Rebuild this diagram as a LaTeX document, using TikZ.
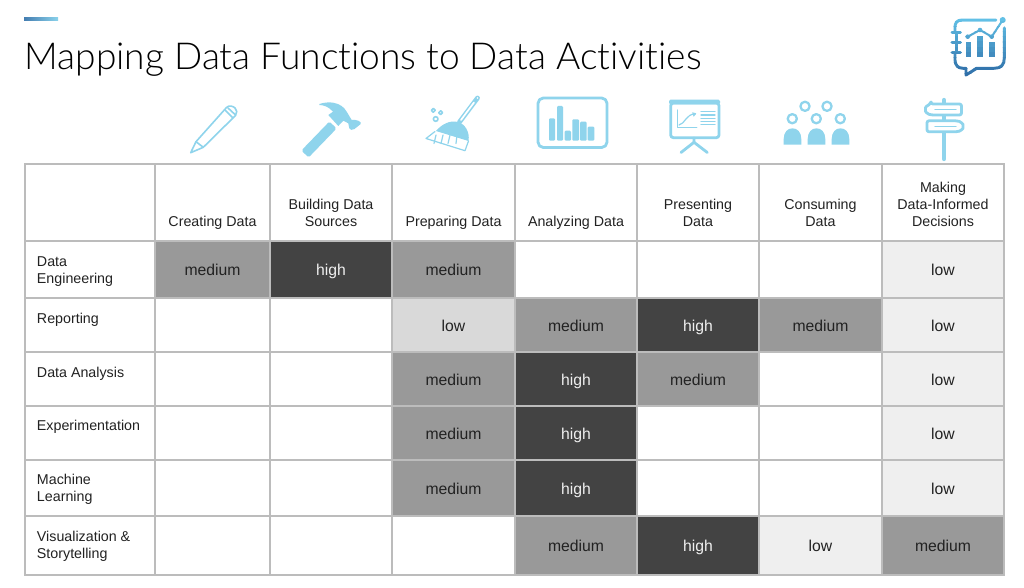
\documentclass[tikz,border=0pt]{standalone}
\usepackage{fontspec}
\setmainfont{Liberation Sans}
\newfontfamily\titlefont[Ligatures={NoCommon}]{Lato Light}
\usetikzlibrary{calc,shapes.geometric}
\definecolor{icon}{HTML}{8FD4EC}
\definecolor{gridc}{HTML}{BCBCBC}
\definecolor{medc}{HTML}{999999}
\definecolor{highc}{HTML}{434343}
\definecolor{lowc}{HTML}{D9D9D9}
\definecolor{palec}{HTML}{EFEFEF}
\definecolor{inkc}{HTML}{222222}
\definecolor{logotop}{HTML}{62C0E6}
\definecolor{logobot}{HTML}{2F6FA8}
\tikzset{
  gridline/.style={draw=gridc,line width=0.85pt},
  valtext/.style={font=\fontsize{11.8}{14}\selectfont,inner sep=0pt,text height=9.6pt,text depth=0pt,anchor=center},
  headtext/.style={font=\fontsize{10.7}{12.75}\selectfont,text=inkc,inner sep=0pt,align=center,anchor=base},
  rowtext/.style={font=\fontsize{10.7}{12.75}\selectfont,text=inkc,inner sep=0pt,align=left,anchor=base west},
  iconline/.style={draw=icon,line width=1.2pt,line join=round,line cap=round,fill=none},
  iconthick/.style={draw=icon,line width=2.1pt,line join=round,line cap=round,fill=none},
  iconfill/.style={fill=icon,draw=none},
}
\newcommand\vcell[5]{%
  \pgfmathtruncatemacro\nc{#1+1}\pgfmathtruncatemacro\nr{#2+1}%
  \draw[gridline,fill=#3] (g#1-#2) rectangle (g\nc-\nr);
  \node[valtext,text=#4] (v#1-#2) at ($(g#1-#2)!.5!(g\nc-\nr)$) {#5};
}
\newcommand\logopaths{%
  \draw[line width=2.2pt,line cap=round,line join=round]
    (996,20) -- (962,20) .. controls (957,20) and (955,23) .. (955,27) -- (955,31);
  \draw[line width=2.2pt] (956.7,33) -- (956.7,52);
  \draw[line width=2.2pt,line cap=round,line join=round]
    (955,54) -- (955,60) .. controls (955,65) and (958,68.3) .. (963,68.3)
    -- (966,68.3) -- (966,75) -- (976.7,68.3) -- (994,68.3)
    .. controls (1001,68.3) and (1004.3,65) .. (1004.3,58) -- (1004.3,28);
  \draw[line width=2pt,line cap=round] (952,32.3) -- (960.5,32.3);
  \draw[line width=2pt,line cap=round] (952,42.3) -- (960.5,42.3);
  \draw[line width=2pt,line cap=round] (952,52.3) -- (960.5,52.3);
  \draw[line width=1.5pt] (967.7,36.7) -- (980,30) -- (991.7,36.7) -- (1002.7,20);
  \fill (967.7,36.7) circle (2.3);
  \fill (980,30) circle (2.3);
  \fill (991.7,36.7) circle (2.3);
  \fill (1002.7,20) circle (3);
  \fill (965.7,41.7) rectangle (970.7,57.3);
  \fill (976.7,36) rectangle (982.7,57.3);
  \fill (989.3,41.7) rectangle (995,57.3);
}
\begin{document}
\begin{tikzpicture}[x=0.75pt,y=-0.75pt]
\useasboundingbox (0,0) rectangle (1024,588);
\fill[white] (0,0) rectangle (1024,588);
% accent bar and title
\shade[left color=logobot!90!white,right color=icon!90!logotop] (24,17.3) rectangle (58,20.7);
\node[inner sep=0pt,anchor=base west,text=black,font=\titlefont\fontsize{27.85}{30}\selectfont] (title) at (24.3,70) {Mapping Data Functions to Data Activities};
% grid
\foreach \i/\x in {0/25,1/155,2/270,3/392,4/515,5/637,6/759,7/882,8/1004}
  \foreach \j/\y in {0/164,1/241,2/298,3/352,4/406,5/460,6/516,7/575}
    \coordinate (g\i-\j) at (\x,\y);
\foreach \i in {0,...,7}
  \foreach \j in {0,...,6} {
    \pgfmathtruncatemacro\nc{\i+1}\pgfmathtruncatemacro\nr{\j+1}
    \draw[gridline,fill=white] (g\i-\j) rectangle (g\nc-\nr);
  }
% values
\vcell{1}{1}{medc}{inkc}{medium}
\vcell{2}{1}{highc}{palec}{high}
\vcell{3}{1}{medc}{inkc}{medium}
\vcell{7}{1}{palec}{inkc}{low}
\vcell{3}{2}{lowc}{inkc}{low}
\vcell{4}{2}{medc}{inkc}{medium}
\vcell{5}{2}{highc}{palec}{high}
\vcell{6}{2}{medc}{inkc}{medium}
\vcell{7}{2}{palec}{inkc}{low}
\vcell{3}{3}{medc}{inkc}{medium}
\vcell{4}{3}{highc}{palec}{high}
\vcell{5}{3}{medc}{inkc}{medium}
\vcell{7}{3}{palec}{inkc}{low}
\vcell{3}{4}{medc}{inkc}{medium}
\vcell{4}{4}{highc}{palec}{high}
\vcell{7}{4}{palec}{inkc}{low}
\vcell{3}{5}{medc}{inkc}{medium}
\vcell{4}{5}{highc}{palec}{high}
\vcell{7}{5}{palec}{inkc}{low}
\vcell{4}{6}{medc}{inkc}{medium}
\vcell{5}{6}{highc}{palec}{high}
\vcell{6}{6}{palec}{inkc}{low}
\vcell{7}{6}{medc}{inkc}{medium}
% headers (anchor at the baseline of the last line)
\node[headtext] (h1) at (212.5,226) {Creating Data};
\node[headtext] (h2) at (331,226) {Building Data\\Sources};
\node[headtext] (h3) at (453.5,226) {Preparing Data};
\node[headtext] (h4) at (576,226) {Analyzing Data};
\node[headtext] (h5) at (698,226) {Presenting\\Data};
\node[headtext] (h6) at (820.5,226) {Consuming\\Data};
\node[headtext] (h7) at (943,226) {Making\\Data-Informed\\Decisions};
% row labels
\node[rowtext] (r1) at (36.7,283) {Data\\Engineering};
\node[rowtext] (r2) at (36.7,323) {Reporting};
\node[rowtext] (r3) at (36.7,377) {Data Analysis};
\node[rowtext] (r4) at (36.7,430) {Experimentation};
\node[rowtext] (r5) at (36.7,501) {Machine\\Learning};
\node[rowtext] (r6) at (36.7,558) {Visualization \&\\Storytelling};
% pencil
\draw[iconline] (190.7,152.7) -- (196,141.7) -- (226.5,107.5)
  .. controls (229,105) and (233,106) .. (235,108)
  .. controls (237,110) and (237.5,113) .. (235.5,115.5) -- (203.3,147.3) -- cycle;
\draw[iconline] (196,141.7) -- (203.3,147.3);
\draw[iconline] (225,110) -- (232.5,117.5);
\draw[iconline] (228,108) -- (235,114.5);
% hammer
\fill[icon,rounded corners=1.2pt] (301.4,150.5) -- (308.6,157.5) -- (336.6,128.5) -- (329.4,121.5) -- cycle;
\fill[icon] (319.3,104) .. controls (324,102.5) and (329,102) .. (333.3,102.7)
  .. controls (340,104) and (344,107) .. (346.7,111.7)
  .. controls (348.5,114.5) and (350,117.5) .. (351.7,120)
  .. controls (354,120) and (356,119.5) .. (358.3,120.7)
  .. controls (360.5,121.5) and (361.5,123) .. (360.7,124)
  -- (354.5,129) .. controls (352,130.5) and (350,130) .. (349.3,128.3)
  -- (348.3,123.3) -- (343.3,120.7) -- (338.3,126) -- (328.3,115) -- (333,111.7)
  .. controls (329,107) and (324,105) .. (319.3,105) -- cycle;
% broom
\draw[icon,line width=3.6pt,line cap=round] (459.5,122) -- (477.5,98);
\draw[white,line width=1.3pt,line cap=round] (461,120) -- (474,102.5);
\fill[white] (477.5,98) circle (0.9);
\fill[icon] (436,131) .. controls (442,124) and (450,120) .. (458,122)
  .. controls (465,124) and (470,132) .. (468.5,141) -- cycle;
\draw[iconline,line width=0.9pt] (435,131.5) -- (426,138.5) -- (465,150.7) -- (468.5,141);
\foreach \a/\b in {436/434,443/441,450/448,457/456}
  \draw[iconline,line width=0.9pt] (\a,135) -- (\b,143.5);
\draw[iconline] (433.3,110.3) circle (1.9);
\draw[iconline] (440.7,112.7) circle (1.9);
\draw[iconline] (435.7,119) circle (2.3);
% bar chart
\draw[iconthick,rounded corners=4pt] (538,98) rectangle (607,147.5);
\foreach \a/\b/\t in {549/555/118.3,557/563/106,564.7/571/130.7,572.3/579/119.3,580/586.7/121.7,587.7/594.3/126.7}
  \fill[icon,rounded corners=0.8pt] (\a,\t) rectangle (\b,140.7);
% presentation
\fill[icon,rounded corners=1pt] (669,99.7) rectangle (720,104.3);
\draw[iconthick,rounded corners=2pt] (670.7,103) rectangle (719,137.7);
\draw[iconthick] (694,138) -- (694,142.3) -- (681,152.5);
\draw[iconthick] (694,142.3) -- (707.3,152.5);
\draw[iconline,line width=0.9pt] (677.3,110) -- (677.3,127.7) -- (696.7,127.7);
\draw[iconline,line width=0.9pt] (679,125) .. controls (685,124) and (686,114) .. (695,114);
\draw[iconline,line width=0.9pt] (692.5,113) -- (695.5,113.7) -- (693.5,116);
\foreach \y in {111.7,115,118.3,121.7,124.3}
  \draw[iconline,line width=0.9pt] (701,\y) -- (715,\y);
% people
\foreach \x/\y in {805/106.3,827/106.3,792.3/118.7,816.3/118.7,840.3/118.7}
  \draw[iconthick,line width=1.7pt] (\x,\y) circle (4.6);
\foreach \a in {783.7,807.7,831.7} {
  \fill[icon] (\a,144.7) -- (\a,139) .. controls (\a,132) and ({\a+4},128.3) .. ({\a+8.8},128.3)
    .. controls ({\a+13.5},128.3) and ({\a+17.6},132) .. ({\a+17.6},139) -- ({\a+17.6},144.7) -- cycle;
}
% signpost
\draw[icon,line width=3.2pt,line cap=round] (944,100) -- (944,159);
\draw[iconthick,fill=white,rounded corners=1.5pt] (931,104) -- (961.5,104) -- (961.5,115) -- (931,115)
  .. controls (928,114) and (925.5,112) .. (925.5,109.5) .. controls (925.5,107) and (928,105) .. (931,104) -- cycle;
\draw[iconthick,fill=white,rounded corners=1.5pt] (927,120.8) -- (957.5,120.8)
  .. controls (960.5,121.8) and (963,124) .. (963,126.3) .. controls (963,128.8) and (960.5,130.8) .. (957.5,131.8)
  -- (927,131.8) -- cycle;
\draw[iconline,line width=0.9pt] (935,109.5) -- (956,109.5);
\draw[iconline,line width=0.9pt] (935,126.3) -- (956,126.3);
% logo with vertical gradient
\foreach \k in {0,...,11} {
  \pgfmathsetmacro\pc{100-\k*100/11}
  \begin{scope}
    \clip (945,{16+\k*5.2}) rectangle (1012,{16+\k*5.2+5.4});
    \colorlet{cur}{logotop!\pc!logobot}
    \tikzset{every path/.append style={color=cur}}
    \logopaths
  \end{scope}
}
\end{tikzpicture}
\end{document}
